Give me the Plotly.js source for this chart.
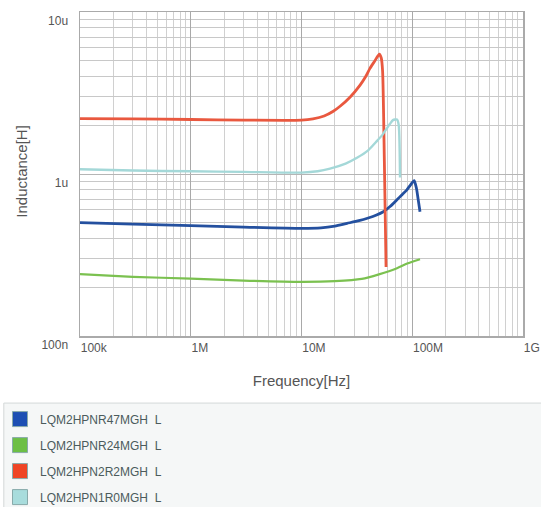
<!DOCTYPE html>
<html>
<head>
<meta charset="utf-8">
<script src="https://cdn.plot.ly/plotly-3.0.1.min.js"></script>
<style>html,body{margin:0;padding:0;background:#fff;}#chart{width:541px;height:507px;}</style>
</head>
<body>
<div id="chart"></div>
<script>
// Series names
const names = ["LQM2HPNR47MGH\u00a0\u00a0L", "LQM2HPNR24MGH\u00a0\u00a0L", "LQM2HPN2R2MGH\u00a0\u00a0L", "LQM2HPN1R0MGH\u00a0\u00a0L"];
const colors = ["#24509f", "#7bc150", "#e9583f", "#a4d8d8"];
const swatchColors = ["#1c4fb3", "#6cbf45", "#ef4424", "#a8dcdc"];

// Frequency [MHz] / Inductance [uH]
const fR47 = [0.1, 0.3, 1, 3, 10, 15, 20, 25.8, 33, 40, 47, 54.8, 63, 72.4, 80, 89.1, 97, 104, 109, 113, 117.5];
const lR47 = [0.501, 0.490, 0.480, 0.470, 0.462, 0.465, 0.477, 0.496, 0.515, 0.535, 0.556, 0.585, 0.630, 0.691, 0.740, 0.796, 0.860, 0.910, 0.820, 0.700, 0.585];

const fR24 = [0.1, 0.3, 1, 3, 10, 20, 35, 50, 72.8, 90, 117.5];
const lR24 = [0.241, 0.232, 0.226, 0.220, 0.216, 0.218, 0.225, 0.240, 0.262, 0.280, 0.298];

const f2R2 = [0.1, 0.3, 1, 3, 10, 12.7, 16, 19.2, 22.3, 27.4, 33.8, 38, 41.5, 46, 50.4, 52.5, 54.0, 56.0, 58.0];
const l2R2 = [2.20, 2.19, 2.17, 2.15, 2.15, 2.19, 2.28, 2.43, 2.62, 2.98, 3.54, 4.00, 4.49, 5.00, 5.50, 5.20, 4.30, 1.20, 0.267];

const f1R0 = [0.1, 0.3, 1, 3, 10, 14, 18.1, 25, 31.7, 40, 48.1, 54, 59.2, 63, 67.0, 72.8, 75.5, 77.5];
const l1R0 = [1.07, 1.05, 1.04, 1.03, 1.02, 1.04, 1.08, 1.16, 1.26, 1.40, 1.60, 1.75, 1.92, 2.04, 2.15, 2.17, 2.00, 0.95];

const xTickVals = [1e5, 1e6, 1e7, 1e8, 1e9];
const xTickText = ["100k", "1M", "10M", "100M", "1G"];
const yTickVals = [1e-7, 1e-6, 1e-5];
const yTickText = ["100n", "1u", "10u"];
const yTitle = "Inductance[H]";

function minorVals(lo, hi) {
  const out = [];
  for (let e = lo; e < hi; e++) for (let m = 2; m <= 9; m++) out.push(m * Math.pow(10, e));
  return out;
}

const series = [[fR47, lR47], [fR24, lR24], [f2R2, l2R2], [f1R0, l1R0]];
const widths = [2.8, 2.2, 2.8, 2.4];
const traces = [];
series.forEach((s, i) => {
  traces.push({
    x: s[0].map(v => v * 1e6), y: s[1].map(v => v * 1e-6),
    mode: "lines", type: "scatter", line: {color: colors[i], width: widths[i], shape: "spline", smoothing: 0.6},
    showlegend: false, hoverinfo: "skip"
  });
});
names.forEach((n, i) => {
  traces.push({
    x: [null], y: [null], mode: "markers", type: "scatter", name: n,
    legendgroup: "g" + i,
    marker: {symbol: "square", size: 15, color: swatchColors[i], line: {color: "#8aa", width: 1}}
  });
});

const layout = {
  width: 541, height: 507,
  margin: {l: 80, r: 18, t: 12, b: 171, autoexpand: false},
  paper_bgcolor: "#fff", plot_bgcolor: "#fff",
  font: {family: "Liberation Sans, Arial, sans-serif", color: "#555"},
  xaxis: {
    type: "log", range: [5, 9], automargin: false,
    tickmode: "array", tickvals: xTickVals, ticktext: xTickText,
    ticklabelposition: "outside right",
    ticks: "", showline: true, mirror: true, linecolor: "#aaa", linewidth: 1.5,
    showgrid: true, gridcolor: "#a9a9a9", gridwidth: 1, zeroline: false,
    tickfont: {size: 12, color: "#555"},
    minor: {tickmode: "array", tickvals: minorVals(5, 9), showgrid: true, gridcolor: "#d0d0d0", gridwidth: 1, ticks: ""},
    title: {text: "Frequency[Hz]", font: {size: 15, color: "#555"}, standoff: 21}
  },
  yaxis: {
    type: "log", range: [-7, -5], automargin: false,
    tickmode: "array", tickvals: yTickVals, ticktext: yTickText,
    ticklabelposition: "outside bottom", ticklabelstandoff: 8,
    ticks: "", showline: true, mirror: true, linecolor: "#aaa", linewidth: 1.5,
    showgrid: true, gridcolor: "#b5b5b5", gridwidth: 1, zeroline: false,
    tickfont: {size: 12, color: "#555"},
    minor: {tickmode: "array", tickvals: minorVals(-7, -5), showgrid: true, gridcolor: "#c8c8c8", gridwidth: 1, ticks: ""}
  },
  annotations: [{
    text: yTitle, textangle: -90, xref: "paper", yref: "paper",
    x: -0.131, y: 0.51, xanchor: "center", yanchor: "middle", showarrow: false,
    font: {size: 15, color: "#555"}
  }],
  showlegend: true,
  legend: {
    xref: "container", yref: "container", x: 0, y: 0.202, xanchor: "left", yanchor: "top",
    bgcolor: "rgba(0,0,0,0)", borderwidth: 0,
    font: {size: 12, color: "#4b5b5c"}, tracegroupgap: 7, traceorder: "grouped",
    itemclick: false
  },
  shapes: [{
    type: "rect", xref: "paper", yref: "paper",
    x0: -0.172, x1: 1.06, y0: -0.207, y1: -0.56,
    fillcolor: "#f5f7f7", line: {color: "#d3d8d8", width: 1}, layer: "below"
  }]
};

Plotly.newPlot("chart", traces, layout, {displayModeBar: false, staticPlot: true});
</script>
</body>
</html>
